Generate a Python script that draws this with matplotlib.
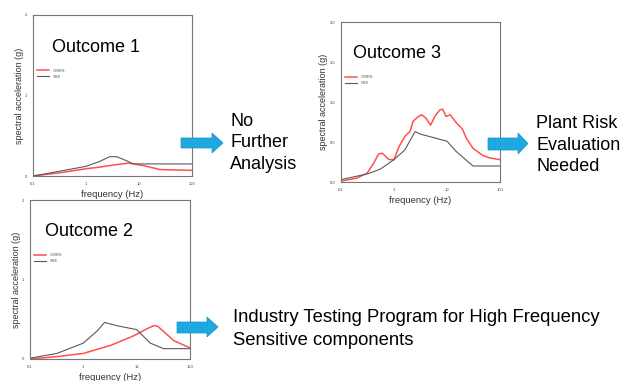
import matplotlib.pyplot as plt
from matplotlib.patches import Polygon

plt.rcParams['font.family'] = ['Liberation Sans', 'DejaVu Sans']

# Outcome 1
f1_sse = [0.1, 0.32, 1.0, 1.8, 2.8, 3.8, 6.3, 7.8, 100]
a1_sse = [0.0, 0.06, 0.12, 0.18, 0.24, 0.24, 0.18, 0.15, 0.15]
f1_gm = [0.1, 0.32, 1.0, 1.8, 2.8, 6.3, 12, 25, 100]
a1_gm = [0.0, 0.04, 0.09, 0.11, 0.13, 0.16, 0.13, 0.08, 0.07]

# Outcome 2
f2_sse = [0.1, 0.32, 1.0, 1.8, 2.5, 4.2, 7.0, 10, 18, 32, 100]
a2_sse = [0.01, 0.07, 0.20, 0.35, 0.46, 0.42, 0.39, 0.37, 0.20, 0.13, 0.13]
f2_gm = [0.1, 0.32, 1.0, 3.2, 8.7, 15.5, 21, 25, 50, 100]
a2_gm = [0.0, 0.03, 0.07, 0.17, 0.29, 0.38, 0.42, 0.41, 0.23, 0.14]

# Outcome 3
f3_gm = [0.1, 0.2, 0.31, 0.41, 0.51, 0.6, 0.7, 0.8, 1.0, 1.24, 1.6, 2.0, 2.3,
         2.9, 3.3, 4.0, 4.9, 5.9, 7.3, 8.3, 9.6, 11.5, 15, 19.6, 23, 31, 48, 65, 100]
a3_gm = [0.01, 0.05, 0.11, 0.23, 0.35, 0.36, 0.32, 0.28, 0.28, 0.44, 0.57, 0.63, 0.76,
         0.82, 0.84, 0.80, 0.71, 0.82, 0.90, 0.91, 0.82, 0.84, 0.74, 0.66, 0.55, 0.42, 0.33, 0.30, 0.28]
f3_sse = [0.1, 0.31, 0.55, 1.0, 1.6, 2.5, 3.1, 10, 15, 31, 100]
a3_sse = [0.03, 0.10, 0.16, 0.28, 0.40, 0.63, 0.60, 0.51, 0.38, 0.20, 0.20]

panels = [
    # (left, top, right, bottom) px, title, title pos, data, yticks, ylabels
    ((33, 15, 192, 176), 'Outcome 1', (52, 47), (f1_gm, a1_gm, f1_sse, a1_sse),
     [0, 1, 2], ['0', '1', '2']),
    ((30, 200, 190, 359), 'Outcome 2', (45, 232), (f2_gm, a2_gm, f2_sse, a2_sse),
     [0, 1, 2], ['0', '1', '2']),
    ((341, 22, 500, 182), 'Outcome 3', (353, 53), (f3_gm, a3_gm, f3_sse, a3_sse),
     [0, 0.5, 1, 1.5, 2], ['0.0', '0.5', '1.0', '1.5', '2.0']),
]

W, H = 624, 381
fig = plt.figure(figsize=(W / 100, H / 100), dpi=100)

for (l, t, r, b), title, (tx, ty), (fg, ag, fs, as_), yt, yl in panels:
    ax = fig.add_axes([l / W, 1 - b / H, (r - l) / W, (b - t) / H])
    ax.semilogx(fg, ag, color='#ff5050', lw=1.1, label='GMRS')
    ax.semilogx(fs, as_, color='#5a5a5a', lw=0.8, label='SSE')
    ax.set_xlim(0.1, 100)
    ax.set_ylim(0, 2)
    ax.set_xticks([0.1, 1, 10, 100])
    ax.set_xticklabels(['0.1', '1', '10', '100'])
    ax.minorticks_off()
    ax.set_yticks(yt)
    ax.set_yticklabels(yl)
    ax.tick_params(labelsize=3, length=0, pad=4, colors='#444444')
    for s in ax.spines.values():
        s.set_color('#777777')
        s.set_linewidth(0.8)
    ax.set_xlabel('frequency (Hz)', fontsize=6.8, color='#333333', labelpad=3)
    ax.set_ylabel('spectral acceleration (g)', fontsize=6.5, color='#333333', labelpad=1)
    ax.legend(loc='upper left', bbox_to_anchor=(0.0, 0.69), fontsize=3, frameon=False,
              handlelength=3, labelcolor='#555555')
    fig.text(tx / W, 1 - ty / H, title, fontsize=13, va='center', ha='left')

# overlay for arrows and right-hand texts
ov = fig.add_axes([0, 0, 1, 1])
ov.set_xlim(0, W)
ov.set_ylim(H, 0)
ov.axis('off')

arrows = [(181, 212, 223, 138, 148, 133, 153),
          (488, 518, 528, 138, 150, 133, 154),
          (177, 207, 218, 322, 333, 317, 337)]
for x0, xh, xt, bt, bb, ht, hb in arrows:
    yc = (ht + hb) / 2
    pts = [(x0, bt), (xh, bt), (xh, ht), (xt, yc), (xh, hb), (xh, bb), (x0, bb)]
    ov.add_patch(Polygon(pts, closed=True, facecolor='#1ea8e0', edgecolor='#1596c8', lw=0.5))

fig.text(230 / W, 1 - 143 / H, 'No\nFurther\nAnalysis', fontsize=13, va='center',
         ha='left', linespacing=1.38)
fig.text(536 / W, 1 - 145 / H, 'Plant Risk\nEvaluation\nNeeded', fontsize=13, va='center',
         ha='left', linespacing=1.38)
fig.text(233 / W, 1 - 329 / H, 'Industry Testing Program for High Frequency\nSensitive components',
         fontsize=13.3, va='center', ha='left', linespacing=1.4)

fig.savefig('out.png', dpi=100)
